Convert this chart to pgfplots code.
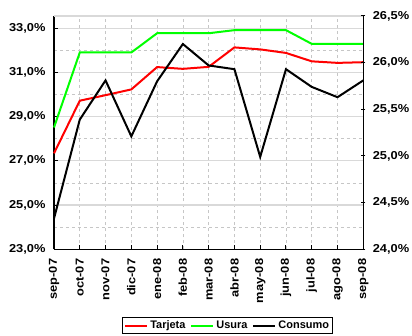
\documentclass[border=0pt]{standalone}
\usepackage{pgfplots}
\pgfplotsset{compat=1.18}
\usepackage{fontspec}
\setmainfont{Liberation Sans}
\newfontfamily\tickfont{Liberation Sans}[FakeStretch=1.12]
\pgfplotstableread{
x tarjeta usura
0 27.34 28.51
1 29.72 31.90
2 29.97 31.90
3 30.23 31.90
4 31.24 32.77
5 31.16 32.77
6 31.25 32.77
7 32.13 32.91
8 32.04 32.91
9 31.88 32.91
10 31.50 32.29
11 31.43 32.29
12 31.46 32.29
}\lefttable
\pgfplotstableread{
x consumo
0 24.33
1 25.39
2 25.81
3 25.21
4 25.80
5 26.20
6 25.97
7 25.93
8 24.99
9 25.93
10 25.74
11 25.63
12 25.81
}\righttable
\begin{document}
\begin{tikzpicture}
\path[use as bounding box] (0,0) rectangle (412bp,336bp);
\pgfplotsset{
  common/.style={
    at={(54bp,86.7bp)}, anchor=south west,
    scale only axis, width=309.3bp, height=233.3bp,
    xmin=0, xmax=12,
    /pgf/number format/assume math mode=true,
    axis line style={line width=1.5bp,-},
    tick style={black, line width=1bp},
    major tick length=4bp,
    yticklabel={\pgfmathprintnumber[fixed,fixed zerofill,precision=1,use comma]{\tick}\%},
    yticklabel style={font=\tickfont\bfseries\fontsize{11.5}{13}\selectfont},
    clip=false,
  }
}
\begin{axis}[common,
  ymin=23, ymax=33.55,
  axis x line*=bottom, axis y line*=left,
  xtick={0,...,12},
  xticklabels={sep-07,oct-07,nov-07,dic-07,ene-08,feb-08,mar-08,abr-08,may-08,jun-08,jul-08,ago-08,sep-08},
  xticklabel style={rotate=90, anchor=east, font=\tickfont\bfseries\fontsize{11.5}{13}\selectfont},
  xticklabel shift=6bp,
  ytick={23,25,...,33}, minor ytick={24,26,...,32},
  minor tick length=0pt,
  xmajorgrids, ymajorgrids, yminorgrids,
  major x grid style={gray!45, dashed, line width=0.6bp},
  major y grid style={gray!30, line width=1.2bp},
  minor y grid style={gray!45, dashed, line width=0.6bp},
  y tick label style={xshift=-5bp},
]
\draw[gray!30, line width=1.2bp] (rel axis cs:0,1) -- (rel axis cs:1,1);
\addplot[red, line width=2bp] table[x=x, y=tarjeta] {\lefttable};
\addplot[green, line width=2bp] table[x=x, y=usura] {\lefttable};
\end{axis}
\begin{axis}[common,
  ymin=24, ymax=26.5,
  axis y line*=right, axis x line=none,
  ytick={24,24.5,...,26.5},
  tick align=center,
  y tick label style={xshift=4bp},
  legend style={at={(axis description cs:0.5615,-0.29)}, anchor=north,
    draw=black, line width=1bp, legend columns=3,
    font=\bfseries\fontsize{11}{13}\selectfont,
    inner sep=1.5bp,
    /tikz/every even column/.style={column sep=3bp}},
  legend image code/.code={\draw[#1] (0bp,0bp) -- (22bp,0bp);},
]
\addlegendimage{red, line width=2bp}
\addlegendentry{Tarjeta}
\addlegendimage{green, line width=2bp}
\addlegendentry{Usura}
\addplot[black, line width=2bp] table[x=x, y=consumo] {\righttable};
\addlegendentry{Consumo}
\end{axis}
\end{tikzpicture}
\end{document}
